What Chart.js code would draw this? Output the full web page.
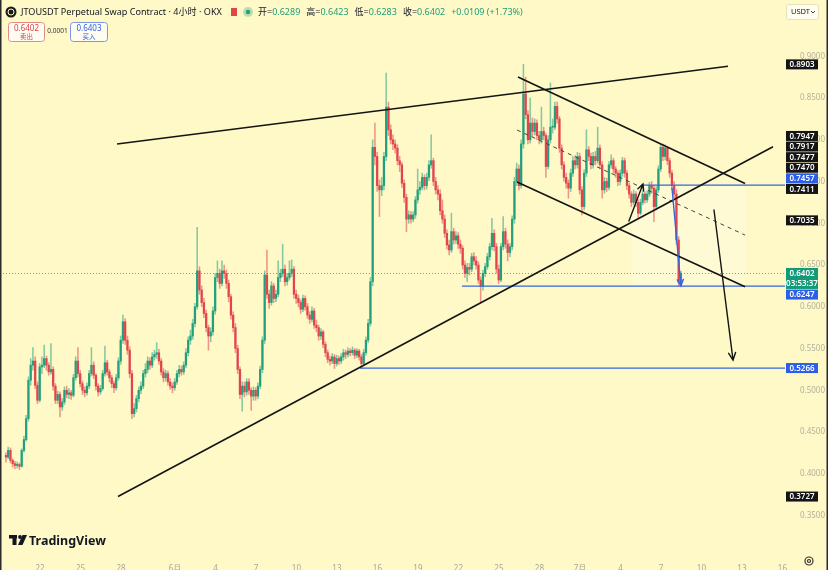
<!DOCTYPE html>
<html>
<head>
<meta charset="utf-8">
<script src="https://cdn.jsdelivr.net/npm/chart.js@4.4.1/dist/chart.umd.min.js"></script>
<style>
html, body { margin: 0; padding: 0; background: #fef9c7; }
canvas { display: block; }
</style>
</head>
<body>
<canvas id="c" width="828" height="570"></canvas>
<script>
// 4h candles, x = days since 1 May
const firstDay = 18.48;
const firstOpen = 0.422;
const closes = [
  0.420,0.428,0.416,0.412,0.410,0.411,0.409,0.428,0.441,0.466,
  0.512,0.530,0.535,0.506,0.488,0.528,0.530,0.538,0.530,0.522,
  0.525,0.505,0.488,0.495,0.480,0.486,0.500,0.495,0.497,0.494,
  0.515,0.535,0.520,0.508,0.500,0.497,0.505,0.520,0.530,0.518,
  0.505,0.498,0.502,0.520,0.533,0.522,0.515,0.508,0.503,0.515,
  0.535,0.560,0.582,0.560,0.548,0.520,0.472,0.478,0.490,0.500,
  0.505,0.520,0.525,0.535,0.530,0.540,0.543,0.545,0.535,0.522,
  0.515,0.520,0.510,0.505,0.503,0.510,0.520,0.525,0.522,0.530,
  0.545,0.560,0.565,0.580,0.600,0.643,0.620,0.605,0.592,0.575,
  0.565,0.570,0.595,0.635,0.640,0.628,0.643,0.640,0.628,0.612,
  0.590,0.575,0.550,0.525,0.495,0.505,0.498,0.510,0.500,0.493,
  0.500,0.493,0.505,0.525,0.560,0.638,0.615,0.605,0.625,0.610,
  0.615,0.635,0.640,0.645,0.630,0.635,0.640,0.645,0.615,0.610,
  0.605,0.597,0.610,0.600,0.590,0.585,0.595,0.578,0.575,0.565,
  0.570,0.555,0.545,0.537,0.535,0.540,0.532,0.538,0.535,0.540,
  0.545,0.543,0.547,0.545,0.548,0.542,0.547,0.540,0.532,0.545,
  0.560,0.580,0.630,0.791,0.780,0.745,0.740,0.745,0.780,0.839,
  0.812,0.800,0.795,0.790,0.775,0.770,0.748,0.731,0.705,0.710,
  0.705,0.710,0.728,0.740,0.743,0.755,0.745,0.755,0.770,0.775,
  0.750,0.740,0.735,0.715,0.705,0.688,0.674,0.668,0.690,0.680,
  0.685,0.675,0.670,0.650,0.640,0.647,0.645,0.660,0.655,0.650,
  0.632,0.625,0.640,0.648,0.660,0.672,0.688,0.672,0.645,0.632,
  0.672,0.690,0.675,0.665,0.672,0.705,0.750,0.765,0.745,0.795,
  0.855,0.830,0.800,0.820,0.810,0.820,0.805,0.800,0.810,0.805,
  0.768,0.800,0.815,0.815,0.840,0.825,0.790,0.770,0.755,0.748,
  0.742,0.760,0.775,0.770,0.780,0.740,0.720,0.760,0.788,0.780,
  0.770,0.780,0.775,0.790,0.770,0.740,0.750,0.743,0.770,0.775,
  0.765,0.760,0.750,0.760,0.775,0.760,0.745,0.735,0.725,0.735,
  0.725,0.712,0.725,0.735,0.728,0.735,0.745,0.742,0.720,0.740,
  0.765,0.791,0.780,0.790,0.775,0.760,0.745,0.735,0.680,0.6293,
  0.6402
];
const highs = [
  0.425,0.432,0.431,0.418,0.415,0.414,0.413,0.430,0.445,0.470,
  0.516,0.538,0.551,0.540,0.510,0.532,0.540,0.554,0.541,0.533,
  0.556,0.528,0.508,0.499,0.498,0.490,0.504,0.505,0.502,0.500,
  0.519,0.540,0.551,0.524,0.511,0.504,0.509,0.524,0.551,0.534,
  0.520,0.508,0.506,0.524,0.553,0.536,0.525,0.518,0.511,0.519,
  0.539,0.565,0.590,0.586,0.565,0.552,0.524,0.484,0.494,0.504,
  0.510,0.524,0.532,0.540,0.539,0.545,0.548,0.557,0.549,0.538,
  0.526,0.524,0.523,0.514,0.509,0.514,0.524,0.530,0.529,0.534,
  0.550,0.564,0.572,0.585,0.604,0.695,0.648,0.625,0.610,0.596,
  0.578,0.575,0.600,0.640,0.655,0.645,0.655,0.650,0.644,0.632,
  0.615,0.594,0.580,0.554,0.528,0.510,0.510,0.514,0.514,0.503,
  0.504,0.503,0.509,0.529,0.564,0.643,0.668,0.620,0.630,0.628,
  0.620,0.655,0.645,0.675,0.650,0.640,0.655,0.656,0.648,0.620,
  0.614,0.608,0.614,0.613,0.604,0.594,0.600,0.598,0.584,0.578,
  0.574,0.572,0.558,0.548,0.541,0.544,0.543,0.542,0.541,0.544,
  0.549,0.548,0.551,0.550,0.552,0.550,0.550,0.549,0.543,0.549,
  0.564,0.585,0.635,0.800,0.820,0.785,0.752,0.755,0.785,0.880,
  0.845,0.818,0.806,0.800,0.794,0.780,0.773,0.752,0.735,0.715,
  0.714,0.714,0.732,0.765,0.750,0.760,0.758,0.760,0.775,0.806,
  0.778,0.755,0.745,0.740,0.728,0.710,0.692,0.680,0.712,0.694,
  0.690,0.689,0.680,0.673,0.655,0.652,0.652,0.664,0.665,0.660,
  0.654,0.636,0.644,0.652,0.664,0.676,0.706,0.692,0.676,0.650,
  0.676,0.708,0.694,0.680,0.676,0.709,0.755,0.772,0.770,0.800,
  0.8903,0.875,0.835,0.850,0.826,0.825,0.824,0.810,0.839,0.815,
  0.808,0.805,0.868,0.825,0.845,0.845,0.828,0.794,0.774,0.760,
  0.752,0.765,0.780,0.781,0.785,0.784,0.744,0.764,0.812,0.792,
  0.784,0.785,0.786,0.815,0.794,0.774,0.755,0.754,0.774,0.782,
  0.778,0.768,0.763,0.764,0.779,0.778,0.763,0.748,0.738,0.740,
  0.738,0.728,0.729,0.739,0.738,0.739,0.749,0.750,0.745,0.744,
  0.769,0.7947,0.7947,0.794,0.792,0.778,0.763,0.750,0.740,0.684,
  0.6423
];
const lows = [
  0.414,0.418,0.413,0.408,0.406,0.407,0.405,0.408,0.426,0.439,
  0.463,0.506,0.524,0.502,0.484,0.486,0.520,0.527,0.524,0.518,
  0.519,0.500,0.484,0.484,0.468,0.476,0.483,0.491,0.490,0.489,
  0.492,0.512,0.516,0.504,0.495,0.492,0.494,0.502,0.517,0.514,
  0.500,0.493,0.495,0.500,0.517,0.518,0.510,0.503,0.497,0.500,
  0.512,0.531,0.556,0.555,0.543,0.515,0.466,0.468,0.474,0.486,
  0.496,0.502,0.516,0.521,0.525,0.527,0.536,0.538,0.531,0.518,
  0.510,0.511,0.506,0.501,0.497,0.500,0.507,0.516,0.518,0.519,
  0.527,0.541,0.555,0.561,0.576,0.597,0.615,0.600,0.587,0.570,
  0.548,0.558,0.566,0.591,0.630,0.622,0.625,0.634,0.622,0.606,
  0.585,0.570,0.545,0.520,0.490,0.475,0.492,0.494,0.495,0.476,
  0.488,0.488,0.490,0.502,0.521,0.556,0.610,0.598,0.602,0.605,
  0.606,0.612,0.630,0.636,0.625,0.626,0.632,0.636,0.610,0.604,
  0.600,0.592,0.594,0.596,0.586,0.580,0.582,0.574,0.570,0.560,
  0.561,0.551,0.540,0.533,0.530,0.532,0.526,0.529,0.531,0.532,
  0.536,0.538,0.540,0.541,0.542,0.538,0.539,0.536,0.5266,0.530,
  0.542,0.557,0.577,0.625,0.770,0.738,0.708,0.733,0.740,0.775,
  0.805,0.795,0.788,0.784,0.770,0.762,0.743,0.725,0.690,0.700,
  0.700,0.702,0.706,0.724,0.735,0.740,0.740,0.741,0.751,0.766,
  0.745,0.735,0.728,0.710,0.700,0.683,0.669,0.662,0.665,0.675,
  0.676,0.670,0.664,0.645,0.635,0.630,0.638,0.642,0.650,0.645,
  0.628,0.605,0.620,0.636,0.645,0.656,0.668,0.667,0.640,0.628,
  0.630,0.668,0.670,0.655,0.660,0.668,0.700,0.745,0.740,0.742,
  0.790,0.825,0.795,0.796,0.804,0.806,0.800,0.795,0.796,0.800,
  0.755,0.765,0.796,0.808,0.812,0.820,0.785,0.765,0.750,0.742,
  0.730,0.738,0.756,0.765,0.766,0.735,0.710,0.716,0.756,0.775,
  0.765,0.766,0.770,0.772,0.765,0.730,0.736,0.738,0.740,0.766,
  0.760,0.755,0.745,0.746,0.756,0.755,0.740,0.730,0.720,0.722,
  0.720,0.707,0.710,0.722,0.724,0.725,0.732,0.736,0.702,0.716,
  0.737,0.762,0.775,0.776,0.770,0.755,0.740,0.730,0.675,0.6247,
  0.6283
];

const dayTicks = [21, 24, 27, 31, 34, 37, 40, 43, 46, 49, 52, 55, 58, 61, 64, 67, 70, 73, 76];
const dayTickLabels = ['22', '25', '28', '6月', '4', '7', '10', '13', '16', '19', '22', '25', '28', '7月', '4', '7', '10', '13', '16'];
const priceTicks = [0.35, 0.40, 0.45, 0.50, 0.55, 0.60, 0.65, 0.70, 0.75, 0.80, 0.85, 0.90];

// drawings: [day, price] pairs
const wedgeTop = [[26.71, 0.7949], [71.97, 0.8880]];
const wedgeBottom = [[26.78, 0.3727], [75.30, 0.7917]];
const channelTop = [[56.41, 0.8751], [73.23, 0.7477]];
const channelBottom = [[56.34, 0.7494], [73.23, 0.6240]];
const channelMid = [[56.34, 0.8117], [73.23, 0.6859]];
const levelStarts = [65.67, 52.26, 44.71];
const levelPrices = [0.7457, 0.6247, 0.5266];
const zoneBox = [[64.85, 0.7457], [73.23, 0.6247]];
const blueArrow = [[67.82, 0.7422], [68.48, 0.6250]];
const blackArrow = [[70.93, 0.7159], [72.34, 0.5362]];
const smallArrow = [[64.63, 0.7027], [65.67, 0.7470]];

const lastPrice = 0.6402;
const markValues = [0.8903, 0.7947, 0.7917, 0.7477, 0.7470, 0.7457, 0.7411, 0.7035, 0.6247, 0.5266, 0.3727];
const markKinds = ['k', 'k', 'k', 'k', 'k', 'b', 'k', 'k', 'b', 'b', 'k'];

const ohlcNames = ['开', '高', '低', '收'];
const ohlcValues = ['0.6289', '0.6423', '0.6283', '0.6402'];

const X_MIN = 18.04, X_MAX = 76.19;
const Y_MIN = 0.3051, Y_MAX = 0.9674;
const BG = '#fef9c7';
const UP = '#22a07e';
const DOWN = '#e2444f';
const BLUE = '#3465e0';

const opens = closes.map((c, i) => (i === 0 ? firstOpen : closes[i - 1]));
const xs = closes.map((c, i) => firstDay + i / 6);
const bodies = closes.map((c, i) => ({ x: xs[i], y: [Math.min(opens[i], c), Math.max(opens[i], c)] }));
const wicks = closes.map((c, i) => ({ x: xs[i], y: [lows[i], highs[i]] }));
const isUp = closes.map((c, i) => c >= opens[i]);

const pts = arr => arr.map(p => ({ x: p[0], y: p[1] }));
const lineSet = (arr, color, width, dash) => ({
    type: 'line',
    data: pts(arr),
    borderColor: color,
    borderWidth: width,
    borderDash: dash || [],
    pointRadius: 0,
    fill: false,
    order: 0,
});

const datasets = [
    lineSet(wedgeTop, '#141414', 1.6),
    lineSet(wedgeBottom, '#141414', 1.6),
    lineSet(channelTop, '#141414', 1.6),
    lineSet(channelBottom, '#141414', 1.6),
    lineSet(channelMid, '#444', 1, [4, 4]),
    ...levelPrices.map((p, i) => lineSet([[levelStarts[i], p], [X_MAX, p]], BLUE, 1.3)),
    {
        type: 'bar',
        data: bodies,
        grouped: false,
        barThickness: 1.6,
        minBarLength: 1,
        backgroundColor: isUp.map(u => (u ? UP : DOWN)),
        order: 1,
    },
    {
        type: 'bar',
        data: wicks,
        grouped: false,
        barThickness: 0.9,
        backgroundColor: isUp.map(u => (u ? 'rgba(34,160,126,0.55)' : 'rgba(226,68,79,0.55)')),
        order: 2,
    },
];

function arrow(ctx, x1, y1, x2, y2, color, width, head) {
    const a = Math.atan2(y2 - y1, x2 - x1);
    ctx.save();
    ctx.strokeStyle = color;
    ctx.lineWidth = width;
    ctx.lineCap = 'round';
    ctx.beginPath();
    ctx.moveTo(x1, y1);
    ctx.lineTo(x2, y2);
    ctx.moveTo(x2 - head * Math.cos(a - 0.45), y2 - head * Math.sin(a - 0.45));
    ctx.lineTo(x2, y2);
    ctx.lineTo(x2 - head * Math.cos(a + 0.45), y2 - head * Math.sin(a + 0.45));
    ctx.stroke();
    ctx.restore();
}

function roundRect(ctx, x, y, w, h, r) {
    ctx.beginPath();
    ctx.moveTo(x + r, y);
    ctx.arcTo(x + w, y, x + w, y + h, r);
    ctx.arcTo(x + w, y + h, x, y + h, r);
    ctx.arcTo(x, y + h, x, y, r);
    ctx.arcTo(x, y, x + w, y, r);
    ctx.closePath();
}

const bgPlugin = {
    id: 'bg',
    beforeDraw(chart) {
        const { ctx, width, height } = chart;
        ctx.save();
        ctx.fillStyle = BG;
        ctx.fillRect(0, 0, width, height);
        ctx.restore();
    },
};

const overlayPlugin = {
    id: 'overlay',
    beforeDatasetsDraw(chart) {
        const { ctx, chartArea } = chart;
        const sx = chart.scales.x, sy = chart.scales.y;
        ctx.save();
        // pale zone
        const x1 = sx.getPixelForValue(zoneBox[0][0]), x2 = sx.getPixelForValue(zoneBox[1][0]);
        const y1 = sy.getPixelForValue(zoneBox[0][1]), y2 = sy.getPixelForValue(zoneBox[1][1]);
        ctx.fillStyle = 'rgba(255,252,228,0.45)';
        ctx.fillRect(x1, y1, x2 - x1, y2 - y1);
        // last price dotted line
        const yl = Math.round(sy.getPixelForValue(lastPrice)) + 0.5;
        ctx.strokeStyle = 'rgba(30,150,110,0.7)';
        ctx.lineWidth = 1;
        ctx.setLineDash([1, 2]);
        ctx.beginPath();
        ctx.moveTo(chartArea.left, yl);
        ctx.lineTo(chartArea.right, yl);
        ctx.stroke();
        ctx.restore();
    },
    afterDatasetsDraw(chart) {
        const { ctx } = chart;
        const sx = chart.scales.x, sy = chart.scales.y;
        const px = p => [sx.getPixelForValue(p[0]), sy.getPixelForValue(p[1])];
        const draw = (arr, color, w, head) => {
            const a = px(arr[0]), b = px(arr[1]);
            arrow(ctx, a[0], a[1], b[0], b[1], color, w, head);
        };
        draw(blueArrow, BLUE, 1.4, 7);
        draw(blackArrow, '#141414', 1.4, 8);
        draw(smallArrow, '#141414', 1.4, 7);
    },
    afterDraw(chart) {
        const { ctx, chartArea } = chart;
        const sy = chart.scales.y;
        ctx.save();

        // price marks on the axis: last price stays put, others are pushed away from it
        const H = 10;
        const yLast = sy.getPixelForValue(lastPrice);
        const cur = { kind: 'g', h: 21, top: yLast - 5.25, lines: [lastPrice.toFixed(4), '03:53:37'] };
        const marks = markValues.map((v, i) => ({ kind: markKinds[i], h: H, y: sy.getPixelForValue(v), lines: [v.toFixed(4)] }));
        const above = marks.filter(m => m.y < yLast).sort((a, b) => b.y - a.y);
        const below = marks.filter(m => m.y >= yLast).sort((a, b) => a.y - b.y);
        let limit = cur.top;
        for (const m of above) {
            const bottom = Math.min(m.y + H / 2, limit - 0.6);
            m.top = bottom - H;
            limit = m.top;
        }
        limit = cur.top + cur.h;
        for (const m of below) {
            m.top = Math.max(m.y - H / 2, limit + 0.6);
            limit = m.top + H;
        }
        const bx = chartArea.right + 1;
        ctx.textAlign = 'center';
        ctx.textBaseline = 'middle';
        for (const it of [...marks, cur]) {
            ctx.fillStyle = it.kind === 'b' ? '#2c5ee8' : it.kind === 'g' ? '#119b78' : '#141414';
            ctx.fillRect(bx, it.top, 32, it.h);
            ctx.fillStyle = '#ffffff';
            ctx.font = "600 8px 'Noto Sans', sans-serif";
            it.lines.forEach((t, k) => ctx.fillText(t, bx + 16, it.top + it.h / (it.lines.length * 2) + 0.3 + k * 10));
        }

        // header row 1
        ctx.textAlign = 'left';
        ctx.textBaseline = 'middle';
        ctx.fillStyle = '#1b1b1b';
        ctx.beginPath();
        ctx.arc(11, 12, 5.5, 0, Math.PI * 2);
        ctx.fill();
        ctx.strokeStyle = BG;
        ctx.lineWidth = 1;
        ctx.beginPath();
        ctx.arc(11, 12, 3, 0, Math.PI * 2);
        ctx.stroke();
        const title = 'JTOUSDT Perpetual Swap Contract · 4小时 · OKX';
        ctx.font = "10px 'Noto Sans', 'Noto Sans CJK SC', sans-serif";
        const size = Math.min(10.5, 10 * 201 / ctx.measureText(title).width);
        ctx.font = size.toFixed(2) + "px 'Noto Sans', 'Noto Sans CJK SC', sans-serif";
        ctx.fillStyle = '#131722';
        ctx.fillText(title, 21, 12.5);
        ctx.fillStyle = '#e04848';
        ctx.fillRect(231, 8, 6, 8);
        ctx.fillStyle = 'rgba(34,160,126,0.3)';
        ctx.beginPath();
        ctx.arc(248, 12, 5, 0, Math.PI * 2);
        ctx.fill();
        ctx.fillStyle = '#22a07e';
        ctx.beginPath();
        ctx.arc(248, 12, 2.2, 0, Math.PI * 2);
        ctx.fill();
        ctx.font = "9px 'Noto Sans', 'Noto Sans CJK SC', sans-serif";
        let x = 258;
        ohlcNames.forEach((n, i) => {
            ctx.fillStyle = '#131722';
            ctx.fillText(n + '=', x, 12.5);
            x += ctx.measureText(n + '=').width;
            ctx.fillStyle = '#1f9e7a';
            ctx.fillText(ohlcValues[i], x, 12.5);
            x += ctx.measureText(ohlcValues[i]).width + 6;
        });
        ctx.fillText('+0.0109 (+1.73%)', x, 12.5);

        // header row 2: sell / buy boxes
        ctx.lineWidth = 1;
        ctx.fillStyle = '#fffdf2';
        roundRect(ctx, 8.5, 22.5, 36, 19, 3);
        ctx.fill();
        ctx.strokeStyle = '#e58a8a';
        ctx.stroke();
        roundRect(ctx, 70.5, 22.5, 37, 19, 3);
        ctx.fill();
        ctx.strokeStyle = '#7b95ee';
        ctx.stroke();
        ctx.textAlign = 'center';
        ctx.font = "8px 'Noto Sans', sans-serif";
        ctx.fillStyle = '#d9434b';
        ctx.fillText('0.6402', 26.5, 28.5);
        ctx.fillStyle = '#2f5fe0';
        ctx.fillText('0.6403', 89, 28.5);
        ctx.font = "6.5px 'Noto Sans CJK SC', sans-serif";
        ctx.fillStyle = '#d9434b';
        ctx.fillText('卖出', 26.5, 36.5);
        ctx.fillStyle = '#2f5fe0';
        ctx.fillText('买入', 89, 36.5);
        ctx.fillStyle = '#333';
        ctx.font = "6.5px 'Noto Sans', sans-serif";
        ctx.fillText('0.0001', 57.5, 31);

        // currency box
        ctx.fillStyle = '#fffdf0';
        roundRect(ctx, 786.5, 4.5, 32, 15, 2);
        ctx.fill();
        ctx.strokeStyle = '#e6e1b8';
        ctx.stroke();
        ctx.fillStyle = '#222';
        ctx.font = "7.5px 'Noto Sans', sans-serif";
        ctx.textAlign = 'left';
        ctx.fillText('USDT', 791, 12);
        ctx.strokeStyle = '#444';
        ctx.beginPath();
        ctx.moveTo(811, 11);
        ctx.lineTo(813, 13);
        ctx.lineTo(815, 11);
        ctx.stroke();

        // TradingView logo
        ctx.fillStyle = '#131722';
        ctx.fillRect(9, 535, 8, 3.5);
        ctx.fillRect(12.5, 535, 4, 10);
        ctx.beginPath();
        ctx.arc(20, 537, 1.9, 0, Math.PI * 2);
        ctx.fill();
        ctx.beginPath();
        ctx.moveTo(22.5, 535);
        ctx.lineTo(27, 535);
        ctx.lineTo(22.5, 545);
        ctx.lineTo(18, 545);
        ctx.closePath();
        ctx.fill();
        ctx.font = "bold 12.5px 'Noto Sans', sans-serif";
        ctx.textBaseline = 'alphabetic';
        ctx.fillText('TradingView', 29, 545);

        // settings gear
        ctx.strokeStyle = '#333';
        ctx.lineWidth = 1.2;
        ctx.beginPath();
        ctx.arc(809, 561, 4, 0, Math.PI * 2);
        ctx.stroke();
        ctx.beginPath();
        ctx.arc(809, 561, 1.5, 0, Math.PI * 2);
        ctx.stroke();

        // frame edges
        ctx.fillStyle = '#2a2a2a';
        ctx.fillRect(0, 0, 1.5, chart.height);
        ctx.fillRect(chart.width - 1.5, 0, 1.5, chart.height);
        ctx.restore();
    },
};

Chart.defaults.font.family = "'Noto Sans', 'Noto Sans CJK SC', sans-serif";

new Chart(document.getElementById('c'), {
    type: 'bar',
    data: { datasets },
    options: {
        responsive: false,
        animation: false,
        devicePixelRatio: 1,
        events: [],
        layout: { padding: 0, autoPadding: false },
        plugins: { legend: { display: false }, tooltip: { enabled: false } },
        scales: {
            x: {
                type: 'linear',
                min: X_MIN,
                max: X_MAX,
                offset: false,
                grid: { display: false },
                border: { display: false },
                afterBuildTicks: s => { s.ticks = dayTicks.map(v => ({ value: v })); },
                afterFit: s => {
                    s.height = 17;
                    s.paddingLeft = 0;
                    s.paddingRight = 0;
                },
                ticks: {
                    autoSkip: false,
                    maxRotation: 0,
                    padding: 3,
                    color: '#a9a795',
                    font: { size: 8 },
                    callback: (v, i) => dayTickLabels[i],
                },
            },
            y: {
                type: 'linear',
                position: 'right',
                min: Y_MIN,
                max: Y_MAX,
                grid: { display: false },
                border: { display: false },
                afterBuildTicks: s => { s.ticks = priceTicks.map(v => ({ value: v })); },
                afterFit: s => {
                    s.width = 43;
                    s.paddingTop = 0;
                    s.paddingBottom = 0;
                },
                ticks: {
                    padding: 7,
                    color: '#b3b09c',
                    font: { size: 8 },
                    callback: v => Number(v).toFixed(4),
                },
            },
        },
    },
    plugins: [bgPlugin, overlayPlugin],
});
</script>
</body>
</html>
